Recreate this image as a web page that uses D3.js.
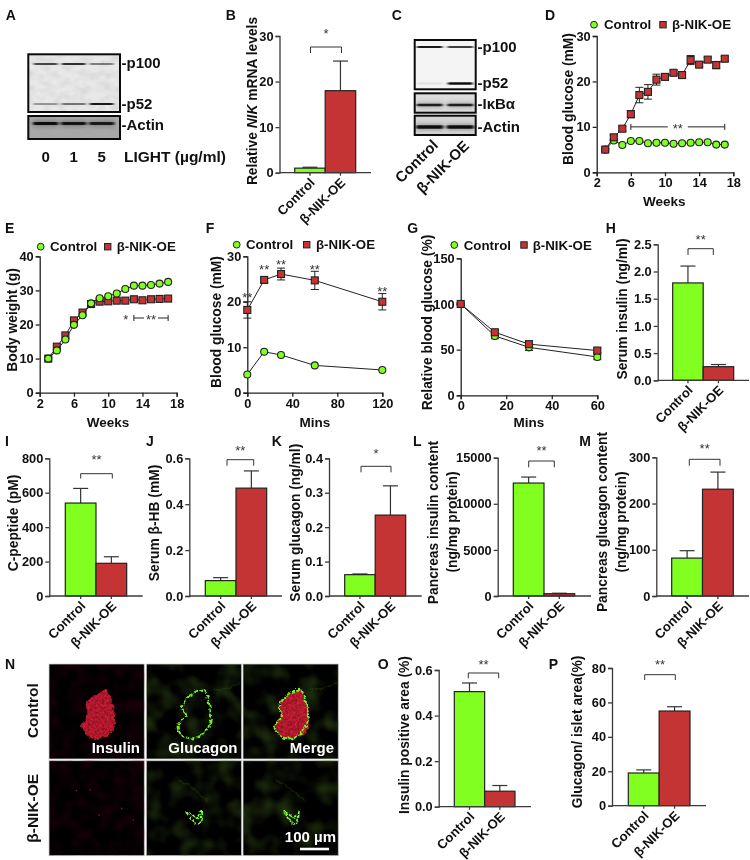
<!DOCTYPE html>
<html><head><meta charset="utf-8">
<script src="https://cdn.jsdelivr.net/npm/d3@7"></script>
<style>
html,body{margin:0;padding:0;background:#fff}
svg{display:block;filter:blur(0.3px)}
text{font-family:"Liberation Sans",Arial,sans-serif;font-weight:bold;fill:#111}
</style></head><body>
<svg id="fig" width="750" height="860"></svg>
<script>
// ---------- DATA ----------
const groups = ["Control", "β-NIK-OE"];
const nikMrnaMean = [1, 18],        nikMrnaErr = [0.2, 6.5];
const insulinMean = [1.79, 0.25],   insulinErr = [0.31, 0.04];
const cPeptideMean = [540, 190],    cPeptideErr = [85, 38];
const hbMean = [0.067, 0.47],       hbErr = [0.013, 0.075];
const glucagonMean = [0.062, 0.235],glucagonErr = [0.002, 0.085];
const pancInsMean = [12250, 250],   pancInsErr = [650, 50];
const pancGluMean = [82, 231],      pancGluErr = [16, 37];
const insAreaMean = [0.505, 0.068], insAreaErr = [0.038, 0.025];
const gluAreaMean = [19, 55],       gluAreaErr = [1.8, 2.5];

const weeks = [3,4,5,6,7,8,9,10,11,12,13,14,15,16,17];
const glucoseCtrl = [5,7,6,6.9,6.9,6.4,6.5,6.5,6.3,6.4,6.5,6.6,6.6,6.1,6.1];
const glucoseNik  = [5,7.7,9.6,12.8,17,17.7,20.4,21,21.9,21.4,24.7,23.7,24.8,23.6,25];
const glucoseNikErr = [0.3,0.5,0.5,0.8,1.7,1.6,1.2,0.5,0.5,0.6,1,0.5,0.5,0.8,0.5];
const weightCtrl = [10,12.4,15.6,19.9,22.7,26.2,27.7,28.3,29.1,30.4,31.4,31.4,31.6,32,32.5];
const weightNik  = [10,13.5,16.8,21.2,23.5,26,26.7,26.8,27,27,27.4,27.1,27.4,27.5,27.6];
const gttMins = [0,15,30,60,120];
const gttCtrl = [4,9,8.3,6,5];
const gttNik  = [18.2,24.8,26.1,24.7,20];
const gttNikErr = [1.8,0.5,1.3,2,1.8];
const ittMins = [0,15,30,60];
const ittCtrl = [100,65,52.5,42];
const ittCtrlErr = [1,3,3.5,3];
const ittNik  = [100,69,56,49];
const ittNikErr = [1,2,2,2];

const blotAp100 = [0.75,0.85,0.5],  blotAp52 = [0.4,0.55,0.95], blotAactin = [1,0.95,0.9];
const blotCp100 = [0.95,0.8],     blotCp52 = [0.07,1];
const blotCikb = [0.9,0.9],      blotCactin = [1,1];

// ---------- HELPERS ----------
const GREEN="#80ff20", RED="#c53434", AX="#3a3a3a", SERIF="Liberation Sans";
const svg=d3.select("#fig");
const defs=svg.append("defs");
defs.append("filter").attr("id","b1").attr("x","-30%").attr("y","-300%").attr("width","160%").attr("height","700%")
  .append("feGaussianBlur").attr("stdDeviation","1.5 0.6");
defs.append("filter").attr("id","halo").attr("x","-30%").attr("y","-300%").attr("width","160%").attr("height","700%")
  .append("feGaussianBlur").attr("stdDeviation","2 2");
const spk=defs.append("filter").attr("id","speck").attr("x","-10%").attr("y","-10%").attr("width","120%").attr("height","120%");
spk.append("feTurbulence").attr("type","fractalNoise").attr("baseFrequency","0.22").attr("numOctaves",2).attr("seed",7).attr("result","w");
spk.append("feDisplacementMap").attr("in","SourceGraphic").attr("in2","w").attr("scale",6).attr("xChannelSelector","R").attr("yChannelSelector","G").attr("result","rough");
spk.append("feTurbulence").attr("type","fractalNoise").attr("baseFrequency","0.42").attr("numOctaves",2).attr("seed",4).attr("result","n");
spk.append("feColorMatrix").attr("in","n").attr("type","matrix").attr("values","0 0 0 0 0 0 0 0 0 0 0 0 0 0 0 0 0 0 0 0 7 0 0 0 -3").attr("result","a");
spk.append("feComposite").attr("in","rough").attr("in2","a").attr("operator","in").attr("result","c");
spk.append("feGaussianBlur").attr("in","c").attr("stdDeviation","0.4");
const rough=defs.append("filter").attr("id","rough").attr("x","-15%").attr("y","-15%").attr("width","130%").attr("height","130%");
rough.append("feTurbulence").attr("type","fractalNoise").attr("baseFrequency","0.22").attr("numOctaves",2).attr("seed",7).attr("result","w");
rough.append("feDisplacementMap").attr("in","SourceGraphic").attr("in2","w").attr("scale",5).attr("xChannelSelector","R").attr("yChannelSelector","G").attr("result","d");
rough.append("feGaussianBlur").attr("in","d").attr("stdDeviation","0.35");
const tex=defs.append("filter").attr("id","tex").attr("x","0").attr("y","0").attr("width","100%").attr("height","100%");
tex.append("feTurbulence").attr("type","fractalNoise").attr("baseFrequency","0.05").attr("numOctaves",2).attr("seed",9).attr("result","n");
tex.append("feColorMatrix").attr("in","n").attr("type","matrix").attr("values","0 0 0 0 0.08 0 0 0 0 0.2 0 0 0 0 0.02 0 0 0 0.9 -0.38");
const texR=defs.append("filter").attr("id","texR").attr("x","0").attr("y","0").attr("width","100%").attr("height","100%");
texR.append("feTurbulence").attr("type","fractalNoise").attr("baseFrequency","0.07").attr("numOctaves",2).attr("seed",3).attr("result","n");
texR.append("feColorMatrix").attr("in","n").attr("type","matrix").attr("values","0 0 0 0 0.12 0 0 0 0 0.0 0 0 0 0 0.02 0 0 0 0.5 -0.18");
const texB=defs.append("filter").attr("id","texB").attr("x","0").attr("y","0").attr("width","100%").attr("height","100%");
texB.append("feTurbulence").attr("type","fractalNoise").attr("baseFrequency","0.09 0.14").attr("numOctaves",2).attr("seed",6).attr("result","n");
texB.append("feColorMatrix").attr("in","n").attr("type","matrix").attr("values","0 0 0 0 0.35 0 0 0 0 0.35 0 0 0 0 0.35 0 0 0 0.9 -0.32");

function text(x,y,s,size,opts={}){
  const t=svg.append("text").attr("x",x).attr("y",y+size*0.36).attr("font-size",size).text(s);
  if(opts.anchor)t.attr("text-anchor",opts.anchor);
  if(opts.fill)t.style("fill",opts.fill);
  return t;
}
function yLabel(x,cy,s,size=13.8){
  const t=svg.append("text").attr("transform",`translate(${x+size*0.36},${cy}) rotate(-90)`)
    .attr("text-anchor","middle").attr("font-size",size);
  if(Array.isArray(s)) s.forEach(p=>t.append("tspan").style("font-style",p.i?"italic":"normal").text(p.t));
  else t.text(s);
  return t;
}
function styleAxis(g,size,stroke=AX){
  g.selectAll("path.domain").attr("stroke",stroke).attr("stroke-width",1.3);
  g.selectAll("line").attr("stroke",stroke).attr("stroke-width",1.3);
  g.selectAll("text").attr("font-size",size).style("fill","#111").style("font-family",SERIF).style("font-weight","bold");
}
function stars(cx,cy,s="**"){
  return svg.append("text").attr("x",cx).attr("y",cy+6).attr("text-anchor","middle").attr("font-size",13).style("font-weight","normal").style("fill","#333").text(s);
}

function barPanel(p){
  const y=d3.scaleLinear().domain([0,p.max]).range([p.y0,p.yTop]);
  const x=d3.scaleBand().domain(groups).range([p.left,p.right]);
  const g=svg.append("g");
  const rows=groups.map((k,i)=>({k,v:p.mean[i],e:p.err[i]}));
  g.selectAll("line.stem").data(rows).join("line")
    .attr("x1",d=>x(d.k)+x.bandwidth()/2).attr("x2",d=>x(d.k)+x.bandwidth()/2)
    .attr("y1",d=>y(d.v)).attr("y2",d=>y(d.v+d.e)).attr("stroke","#333").attr("stroke-width",1.2);
  g.selectAll("line.cap").data(rows).join("line")
    .attr("x1",d=>x(d.k)+x.bandwidth()/2-7.5).attr("x2",d=>x(d.k)+x.bandwidth()/2+7.5)
    .attr("y1",d=>y(d.v+d.e)).attr("y2",d=>y(d.v+d.e)).attr("stroke","#333").attr("stroke-width",1.2);
  g.selectAll("rect").data(rows).join("rect")
    .attr("x",d=>x(d.k)).attr("width",x.bandwidth())
    .attr("y",d=>y(d.v)).attr("height",d=>p.y0-y(d.v))
    .attr("fill",(d,i)=>i?RED:GREEN).attr("stroke","#222").attr("stroke-width",1.2);
  const ay=svg.append("g").attr("transform",`translate(${p.x0},0)`).call(d3.axisLeft(y).tickValues(p.ticks).tickSize(4).tickPadding(2).tickFormat(p.fmt||(d=>d)));
  styleAxis(ay,12.8);
  const ax=svg.append("g").attr("transform",`translate(0,${p.y0})`).call(d3.axisBottom(x).tickSize(3).tickSizeOuter(0));
  ax.select("path.domain").remove();
  styleAxis(ax,13.1);
  ax.selectAll("text").attr("text-anchor","end").attr("transform","translate(2.5,7.5) rotate(-45)").attr("x",0).attr("y",0).attr("dy","0.35em");
  svg.append("line").attr("x1",p.x0).attr("x2",p.xEnd).attr("y1",p.y0).attr("y2",p.y0).attr("stroke",AX).attr("stroke-width",1.3);
  const b=p.br;
  svg.append("path").attr("d",`M${b[0]},${b[3]}V${b[2]}H${b[1]}V${b[3]}`).attr("fill","none").attr("stroke","#333").attr("stroke-width",1);
  stars((b[0]+b[1])/2,p.starY,p.star||"**");
}

function legend(y,c1,t1,c2,t2){
  svg.append("circle").attr("cx",c1).attr("cy",y).attr("r",3.4).attr("fill",GREEN).attr("stroke","#222").attr("stroke-width",1);
  text(t1,y,groups[0],13.3);
  svg.append("rect").attr("x",c2-3.2).attr("y",y-3.2).attr("width",6.4).attr("height",6.4).attr("fill",RED).attr("stroke","#222").attr("stroke-width",1);
  text(t2,y,groups[1],13.3);
}

function linePanel(p){
  const x=d3.scaleLinear().domain(p.xDomain).range(p.xRange);
  const y=d3.scaleLinear().domain(p.yDomain).range([p.y0,p.yTop]);
  const line=d3.line().x(d=>x(d[0])).y(d=>y(d[1]));
  const drawSeries=(vals,errs,isRed)=>{
    const rows=p.xs.map((t,i)=>[t,vals[i],errs?errs[i]:0]);
    const g=svg.append("g");
    g.append("path").attr("d",line(rows)).attr("fill","none").attr("stroke","#222").attr("stroke-width",1);
    if(errs){
      g.selectAll("path.e").data(rows).join("path")
        .attr("d",d=>`M${x(d[0])-4},${y(d[1]+d[2])}H${x(d[0])+4}M${x(d[0])},${y(d[1]+d[2])}V${y(d[1]-d[2])}M${x(d[0])-4},${y(d[1]-d[2])}H${x(d[0])+4}`)
        .attr("fill","none").attr("stroke","#222").attr("stroke-width",1);
    }
    if(isRed){
      g.selectAll("rect").data(rows).join("rect")
        .attr("x",d=>x(d[0])-3.5).attr("y",d=>y(d[1])-3.5).attr("width",7).attr("height",7)
        .attr("fill",RED).attr("stroke","#222").attr("stroke-width",1.1);
    }else{
      g.selectAll("circle").data(rows).join("circle")
        .attr("cx",d=>x(d[0])).attr("cy",d=>y(d[1])).attr("r",3.5)
        .attr("fill",GREEN).attr("stroke","#222").attr("stroke-width",1.1);
    }
  };
  const ay=svg.append("g").attr("transform",`translate(${p.xRange[0]},0)`).call(d3.axisLeft(y).tickValues(p.yTicks).tickSize(4).tickPadding(2).tickSizeOuter(4));
  styleAxis(ay,12.8,"#222");
  const ax=svg.append("g").attr("transform",`translate(0,${p.y0})`).call(d3.axisBottom(x).tickValues(p.xTicks).tickSize(4).tickPadding(2).tickSizeOuter(4));
  styleAxis(ax,12.8,"#222");
  if(p.ctrlOnTop){drawSeries(p.nik,p.nikErr,true);drawSeries(p.ctrl,p.ctrlErr,false);}
  else{drawSeries(p.ctrl,p.ctrlErr,false);drawSeries(p.nik,p.nikErr,true);}
  return {x,y};
}

// ---------- BLOTS ----------
function blotBox(x0,x1,y0,y1,bg,lanes,bands,mottle){
  const g=svg.append("g");
  g.append("rect").attr("x",x0).attr("y",y0).attr("width",x1-x0).attr("height",y1-y0).attr("fill",bg);
  if(mottle) g.append("rect").attr("x",x0).attr("y",y0).attr("width",x1-x0).attr("height",y1-y0).attr("filter","url(#texB)").attr("opacity",mottle);
  const clipId="c"+Math.round(x0)+"_"+Math.round(y0);
  defs.append("clipPath").attr("id",clipId).append("rect").attr("x",x0).attr("y",y0).attr("width",x1-x0).attr("height",y1-y0);
  const clip=g.append("g").attr("clip-path",`url(#${clipId})`);
  const inner=clip.append("g").attr("filter","url(#b1)");
  const haloG=clip.insert("g","g").attr("filter","url(#halo)");
  bands.forEach(b=>{
    if(b.halo) haloG.selectAll(null).data(b.vals).join("rect")
      .attr("x",(d,i)=>lanes[i]-b.w/2).attr("width",b.w).attr("y",b.y-b.halo/2).attr("height",b.halo)
      .attr("fill","#333").attr("opacity",d=>d*0.45);
    inner.selectAll(null).data(b.vals).join("rect")
      .attr("x",(d,i)=>lanes[i]-b.w/2).attr("width",b.w)
      .attr("y",b.y-b.h/2).attr("height",b.h).attr("rx",1)
      .attr("fill","#111").attr("opacity",d=>d);
  });
  g.append("rect").attr("x",x0).attr("y",y0).attr("width",x1-x0).attr("height",y1-y0)
    .attr("fill","none").attr("stroke","#0a0a0a").attr("stroke-width",2);
}
const lanesA=[45.7,73.7,101.7];
blotBox(28.3,120,54.3,112,"#e8e8e8",lanesA,[{vals:blotAp100,y:64,h:2,w:24},{vals:blotAp52,y:104,h:2.2,w:24}],.5);
blotBox(28.3,120,116,139,"#a8a8a8",lanesA,[{vals:blotAactin,y:123.5,h:3,w:25,halo:5}],.8);
text(121.5,63,"-p100",15);
text(121.5,103.5,"-p52",15);
text(121.5,125,"-Actin",15);
lanesA.forEach((x,i)=>text(x,156.7,["0","1","5"][i],15,{anchor:"middle"}));
text(124,156.7,"LIGHT (µg/ml)",15.5);

const lanesC=[429.7,460.3];
blotBox(414.7,475.7,40,89.3,"#f4f4f4",lanesC,[{vals:blotCp100,y:47,h:1.8,w:26},{vals:blotCp52,y:83.5,h:2.4,w:25}]);
blotBox(414.7,475.7,93.3,112.7,"#dcdcdc",lanesC,[{vals:blotCikb,y:105,h:2.4,w:26,halo:4}]);
blotBox(414.7,475.7,115.7,135,"#d4d4d4",lanesC,[{vals:blotCactin,y:127,h:3.4,w:27,halo:5}]);
text(477.5,47,"-p100",15);
text(477.5,82.5,"-p52",15);
text(477.5,104,"-IκBα",15);
text(477.5,126.3,"-Actin",15);
svg.append("text").attr("transform","translate(439,146) rotate(-45)").attr("text-anchor","end").attr("font-size",15).text(groups[0]);
svg.append("text").attr("transform","translate(470,147) rotate(-45)").attr("text-anchor","end").attr("font-size",15).text(groups[1]);

// ---------- BAR PANELS ----------
barPanel({x0:279.5,xEnd:371,yTop:36,y0:172.7,left:294.7,right:355.7,max:30,ticks:[0,10,20,30],mean:nikMrnaMean,err:nikMrnaErr,br:[310.5,341.5,47,53],starY:32,star:"*"});
yLabel(251.7,101,[{t:"Relative "},{t:"NIK",i:1},{t:" mRNA levels"}]);
barPanel({x0:657.7,xEnd:749,yTop:244.3,y0:380.3,left:672.7,right:733.7,max:2.5,ticks:[0,.5,1,1.5,2,2.5],fmt:d3.format(".1f"),mean:insulinMean,err:insulinErr,br:[688,713.3,248.7,255],starY:237.7});
yLabel(621.7,309,"Serum insulin (ng/ml)");
barPanel({x0:49.3,xEnd:142.7,yTop:458.3,y0:596,left:65.3,right:126.7,max:800,ticks:[0,200,400,600,800],mean:cPeptideMean,err:cPeptideErr,br:[80.7,112.3,473.7,478.5],starY:458});
yLabel(12.7,523,"C-peptide (pM)");
barPanel({x0:189.3,xEnd:282,yTop:458.3,y0:596,left:205.3,right:266.7,max:.6,ticks:[0,.2,.4,.6],fmt:d3.format(".1f"),mean:hbMean,err:hbErr,br:[227,253.7,459.7,465.7],starY:448.7});
yLabel(154,523,"Serum β-HB (mM)");
barPanel({x0:329,xEnd:421.7,yTop:458.3,y0:596,left:344.7,right:405.7,max:.4,ticks:[0,.1,.2,.3,.4],fmt:d3.format(".1f"),mean:glucagonMean,err:glucagonErr,br:[361,391,466.3,472.3],starY:452,star:"*"});
yLabel(295,522.7,"Serum glucagon (ng/ml)");
barPanel({x0:497.7,xEnd:591,yTop:457.7,y0:596,left:513.3,right:574.7,max:15000,ticks:[0,5000,10000,15000],mean:pancInsMean,err:pancInsErr,br:[528.7,554.3,461,467.3],starY:449});
yLabel(433.3,522.5,"Pancreas insulin content");
yLabel(452.3,522,"(ng/mg protein)");
barPanel({x0:656.3,xEnd:749,yTop:457.3,y0:596,left:671.7,right:733.3,max:300,ticks:[0,100,200,300],mean:pancGluMean,err:pancGluErr,br:[689.3,720,459.3,465.7],starY:447});
yLabel(602.3,522,"Pancreas glucagon content");
yLabel(620.7,522,"(ng/mg protein)");
barPanel({x0:438.7,xEnd:531,yTop:670,y0:806.7,left:454.3,right:515,max:.6,ticks:[0,.2,.4,.6],fmt:d3.format(".1f"),mean:insAreaMean,err:insAreaErr,br:[468.3,498.7,673,678.3],starY:662.7});
yLabel(404.3,735,"Insulin positive area (%)");
barPanel({x0:612,xEnd:706,yTop:668,y0:805.7,left:628.3,right:690,max:80,ticks:[0,20,40,60,80],mean:gluAreaMean,err:gluAreaErr,br:[644.7,675.3,674.7,680],starY:662.7});
yLabel(577.3,732,"Glucagon/ islet area(%)");

// ---------- LINE PANELS ----------
const pD=linePanel({xDomain:[2,18],xRange:[596.7,733.3],yDomain:[0,30],y0:172.3,yTop:36,xTicks:[2,6,10,14,18],yTicks:[0,10,20,30],xs:weeks,ctrl:glucoseCtrl,nik:glucoseNik,nikErr:glucoseNikErr});
yLabel(568.3,99,"Blood glucose (mM)");
legend(24.7,594,604,663,672);
text(664.3,200.7,"Weeks",13.5,{anchor:"middle"});
{const y=pD.y(10),a=pD.x(6),b=pD.x(17);
 svg.append("path").attr("d",`M${a},${y-3}V${y+3}M${a},${y}H${(a+b)/2-10}M${(a+b)/2+10},${y}H${b}M${b},${y-3}V${y+3}`).attr("fill","none").attr("stroke","#222").attr("stroke-width",1);
 stars((a+b)/2,y);}

const pE=linePanel({xDomain:[2,18],xRange:[39.7,176.7],yDomain:[0,40],y0:392.7,yTop:256.3,xTicks:[2,6,10,14,18],yTicks:[0,10,20,30,40],xs:weeks,ctrl:weightCtrl,nik:weightNik,ctrlOnTop:true});
yLabel(12.3,320,"Body weight (g)");
legend(246.7,40.7,50,107.7,116.7);
text(108,421.7,"Weeks",13.5,{anchor:"middle"});
{const a=pE.x(13),b=pE.x(17),y=318,m=(a+b)/2;
 svg.append("path").attr("d",`M${a},${y-3}V${y+3}M${a},${y}H${m-7}M${m+7},${y}H${b}M${b},${y-3}V${y+3}`).attr("fill","none").attr("stroke","#222").attr("stroke-width",1);
 stars(m,y); stars(125.7,y,"*");}

const pF=linePanel({xDomain:[0,120],xRange:[247.3,382.3],yDomain:[0,30],y0:392.7,yTop:256.3,xTicks:[0,40,80,120],yTicks:[0,10,20,30],xs:gttMins,ctrl:gttCtrl,nik:gttNik,nikErr:gttNikErr});
yLabel(216,322,"Blood glucose (mM)");
legend(244.7,236.7,246,306.7,316);
text(315,421.7,"Mins",13.5,{anchor:"middle"});
[[0,295.7],[15,268],[30,262.7],[60,268],[120,290]].forEach(s=>stars(pF.x(s[0]),s[1]));

linePanel({xDomain:[0,60],xRange:[460.7,597.3],yDomain:[0,150],y0:395.3,yTop:258.3,xTicks:[0,20,40,60],yTicks:[0,50,100,150],xs:ittMins,ctrl:ittCtrl,ctrlErr:ittCtrlErr,nik:ittNik,nikErr:ittNikErr});
yLabel(426.7,322.5,"Relative blood glucose (%)");
legend(245,454.3,463.7,524,532.7);
text(529,421.7,"Mins",13.5,{anchor:"middle"});

// ---------- MICROGRAPHS ----------
const cols=[49,146.3,243], colW=95.3, rows=[664,760.7], rowH=95;
rows.forEach((ry,r)=>cols.forEach((cx,c)=>{
  svg.append("rect").attr("x",cx).attr("y",ry).attr("width",colW).attr("height",rowH).attr("fill","#000").attr("stroke","#cfcfcf").attr("stroke-width",0.8);
  const f=c===0?"texR":"tex";
  svg.append("rect").attr("x",cx).attr("y",ry).attr("width",colW).attr("height",rowH).attr("filter",`url(#${f})`);
}));
const toPts=(pts,dx)=>pts.map(p=>[p[0]/3+dx,p[1]/3+640]);
const islet=[[320,150],[335,190],[345,230],[340,270],[325,285],[280,297],[250,275],[243,258],[262,225],[258,190],[285,165]];
const closed=d3.line().curve(d3.curveCatmullRomClosed);
const gluRing=[[610,150],[627,190],[632,240],[615,275],[580,295],[545,285],[533,258],[558,225],[545,205],[565,170]];
const gluV=[[558,515],[578,525],[592,535],[605,512],[600,548],[590,552],[575,537]];
const faintBands=[[[535,420],[580,445],[625,485]],[[640,150],[680,145],[720,130]]];
[0,97].forEach(dx=>{
  svg.append("path").attr("d",closed(toPts(islet,dx*2))).attr("fill","#8e1024").attr("opacity",.75).attr("filter","url(#rough)");
  svg.append("path").attr("d",closed(toPts(islet,dx*2))).attr("fill","#f0283f").attr("filter","url(#speck)");
  svg.append("path").attr("d",closed(toPts(gluRing,dx))).attr("fill","none").attr("stroke","#74f01c").attr("stroke-width",2).attr("stroke-dasharray","4 1.2").attr("filter","url(#rough)");
  svg.append("path").attr("d",closed(toPts(gluV,dx))).attr("fill","none").attr("stroke","#80ff30").attr("stroke-width",1.5).attr("stroke-dasharray","3 .8").attr("filter","url(#rough)");
  faintBands.forEach(b=>{
    svg.append("path").attr("d",d3.line()(toPts(b,dx))).attr("fill","none").attr("stroke","#3d6a10").attr("stroke-width",1.6).attr("opacity",.25).attr("filter","url(#rough)");
  });
});
[[229,452],[270,450],[297,525],[365,505],[400,540]].forEach(p=>svg.append("circle").attr("cx",p[0]/3).attr("cy",p[1]/3+640).attr("r",.8).attr("fill","#a01030"));
text(140,748,"Insulin",15,{anchor:"end",fill:"#fff"});
text(237.5,748,"Glucagon",15,{anchor:"end",fill:"#fff"});
text(334,748,"Merge",15,{anchor:"end",fill:"#fff"});
text(336,836.7,"100 µm",15,{anchor:"end",fill:"#fff"});
svg.append("line").attr("x1",300).attr("x2",329).attr("y1",849).attr("y2",849).attr("stroke","#fff").attr("stroke-width",2.6);
yLabel(32.7,710.7,groups[0],15.5);
yLabel(32.7,808.3,groups[1],15.5);

// ---------- PANEL LETTERS ----------
[["A",5.7,15],["B",225.7,15],["C",391.7,15],["D",545,15],["E",5,228],["F",205.7,228],["G",407.3,228],["H",605.7,228],
 ["I",5,440.7],["J",146,440.7],["K",271.7,440.7],["L",413,440.7],["M",579.3,440.7],["N",5,664],["O",377.7,664],["P",548.7,664]]
 .forEach(d=>text(d[1],d[2],d[0],14));
</script>
</body></html>
